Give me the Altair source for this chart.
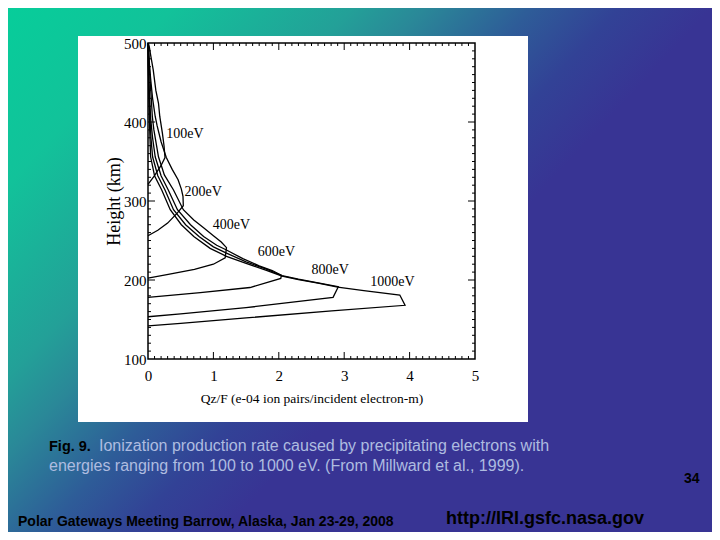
import altair as alt
import pandas as pd

# ---------------- data ----------------
energies = ["100eV", "200eV", "400eV", "600eV", "800eV", "1000eV"]

q_100 = [0.005, 0.02, 0.04, 0.08, 0.12, 0.16, 0.18, 0.22, 0.245, 0.26, 0.20, 0.10, 0.0]
h_100 = [500, 495, 485, 466, 440, 424, 407, 386, 370, 355, 345, 332, 321]

q_200 = [0.004, 0.02, 0.04, 0.07, 0.11, 0.14, 0.20, 0.28, 0.37, 0.46, 0.51, 0.535, 0.54, 0.45, 0.30, 0.15, 0.0]
h_200 = [500, 475, 455, 430, 407, 395, 375, 355, 340, 327, 315, 306, 294, 285, 272, 263, 256]

q_400 = [0.003, 0.016, 0.03, 0.05, 0.066, 0.09, 0.16, 0.25, 0.39, 0.54, 0.70, 0.85, 1.0, 1.12, 1.2,
         1.18, 1.0, 0.71, 0.31, 0.0]
h_400 = [500, 480, 455, 430, 407, 390, 356, 333, 314, 289, 276, 266, 256, 248, 241,
         228, 220, 213.5, 207, 202.5]

q_600 = [0.002, 0.008, 0.02, 0.04, 0.07, 0.11, 0.20, 0.31, 0.45, 0.65, 0.85, 1.05, 1.2, 1.45, 1.7, 1.9, 2.04,
         2.03, 1.56, 0.8, 0.0]
h_600 = [500, 470, 440, 405, 380, 356, 332, 314, 289, 270, 255, 244, 238, 227, 218, 212, 206,
         202, 190.5, 184, 178]

q_800 = [0.001, 0.006, 0.015, 0.03, 0.045, 0.07, 0.15, 0.26, 0.39, 0.575, 0.78, 1.0, 1.2, 1.5, 1.8, 2.05, 2.3,
         2.6, 2.91, 2.83, 1.5, 0.5, 0.0]
h_800 = [500, 470, 440, 405, 380, 356, 332, 314, 289, 270, 255, 242, 234, 223, 214, 205.5, 201,
         196.5, 191.5, 178, 165, 157, 153.5]

q_1000 = [0.001, 0.004, 0.01, 0.02, 0.03, 0.04, 0.10, 0.21, 0.34, 0.51, 0.70, 0.95, 1.2, 1.5, 1.8, 2.05, 2.3,
          2.6, 2.9, 3.3, 3.85, 3.93, 2.81, 1.5, 0.5, 0.0]
h_1000 = [500, 470, 440, 405, 380, 356, 332, 314, 289, 270, 255, 240, 230, 221, 212.5, 205, 200.5,
          196, 191, 186.5, 181, 168, 161, 152, 145, 142]

label_q = [0.28, 0.56, 0.99, 1.68, 2.5, 3.4]
label_h = [385, 311, 269, 235, 213, 198]

x_ticks = [0, 1, 2, 3, 4, 5]
y_ticks = [100, 200, 300, 400, 500]
x_minor = [round(i * 0.1, 1) for i in range(1, 50) if i % 10]
y_minor = [100 + 10 * i for i in range(1, 40) if i % 10]
x_major = [1, 2, 3, 4]
y_major = [200, 300, 400]

caption_bold = "Fig. 9."
caption_1 = "Ionization production rate caused by precipitating electrons with"
caption_2 = "energies ranging from 100 to 1000 eV. (From Millward et al., 1999)."
footer_left = "Polar Gateways Meeting Barrow, Alaska, Jan 23-29, 2008"
footer_url = "http://IRI.gsfc.nasa.gov"
page_no = "34"

# ---------------- tables ----------------
Q = [q_100, q_200, q_400, q_600, q_800, q_1000]
Hh = [h_100, h_200, h_400, h_600, h_800, h_1000]
rows = []
for name, qs, hs in zip(energies, Q, Hh):
    for i, (q, h) in enumerate(zip(qs, hs)):
        rows.append({"energy": name, "q": q, "h": h, "i": i})
curves = pd.DataFrame(rows)
labels = pd.DataFrame({"energy": energies, "q": label_q, "h": label_h})

W, H = 327, 316
xs = alt.Scale(domain=[0, 5], nice=False, zero=False)
ys = alt.Scale(domain=[100, 500], nice=False, zero=False)
one = alt.Data(values=[{"a": 1}])
SERIF = "Liberation Serif"
SANS = "Liberation Sans"

x_axis = alt.Axis(
    values=x_ticks, format="d", domain=False, ticks=False, tickSize=0, grid=False,
    labelFont=SERIF, labelFontSize=15, labelColor="black", labelPadding=9,
    labelFlush=False, labelOverlap=False,
    title="Qz/F (e-04 ion pairs/incident electron-m)", titleFont=SERIF,
    titleFontSize=13.5, titleFontWeight="normal", titleColor="black",
    titleX=163.5, titleY=39, titleBaseline="middle", titleAlign="center", zindex=1)
y_axis = alt.Axis(
    values=y_ticks, format="d", domain=False, ticks=False, tickSize=0, grid=False,
    labelFont=SERIF, labelFontSize=15, labelColor="black", labelPadding=2,
    labelFlush=False, labelOverlap=False,
    title="Height (km)", titleFont=SERIF, titleFontSize=18, titleFontWeight="normal",
    titleColor="black", titleAngle=270, titleX=-34, titleY=158,
    titleBaseline="middle", titleAlign="center", zindex=1)


def X(f):
    return alt.X(f, scale=xs, axis=x_axis)


def Y(f):
    return alt.Y(f, scale=ys, axis=y_axis)


grad = {
    "gradient": "linear",
    "x1": 0, "y1": 0, "x2": 0.671, "y2": 0.47,
    "stops": [
        {"offset": 0.0, "color": "#06CE9A"},
        {"offset": 0.25, "color": "#12C29A"},
        {"offset": 0.5, "color": "#23A098"},
        {"offset": 0.6, "color": "#2A8898"},
        {"offset": 0.75, "color": "#2E5C98"},
        {"offset": 0.87, "color": "#324296"},
        {"offset": 1.0, "color": "#383494"},
    ],
}

bg = alt.Chart(one).mark_rect(fill=grad).encode(
    x=alt.value(-148), x2=alt.value(572), y=alt.value(-43), y2=alt.value(497))
box = alt.Chart(one).mark_rect(fill="white").encode(
    x=alt.value(-70), x2=alt.value(380), y=alt.value(-7), y2=alt.value(379))


def xticks(vals, y0, y1):
    return alt.Chart(pd.DataFrame({"v": vals})).mark_rule(color="black", strokeWidth=1).encode(
        x=X("v:Q"), y=alt.value(y0), y2=alt.value(y1))


def yticks(vals, x0, x1):
    return alt.Chart(pd.DataFrame({"v": vals})).mark_rule(color="black", strokeWidth=1).encode(
        y=Y("v:Q"), x=alt.value(x0), x2=alt.value(x1))


ticks = [
    xticks(x_minor, H, H - 3), xticks(x_minor, 0, 3),
    xticks(x_major, H, H - 7), xticks(x_major, 0, 7),
    yticks(y_minor, 0, 3), yticks(y_minor, W, W - 3),
    yticks(y_major, 0, 7), yticks(y_major, W, W - 7),
]

lines = alt.Chart(curves).mark_line(color="black", strokeWidth=1.3).encode(
    x=X("q:Q"), y=Y("h:Q"), detail="energy:N", order="i:Q")

elabels = alt.Chart(labels).mark_text(
    font=SERIF, fontSize=14, color="black", align="left", baseline="middle").encode(
    x=X("q:Q"), y=Y("h:Q"), text="energy:N")

frame = alt.Chart(one).mark_rect(fillOpacity=0, stroke="black", strokeWidth=1.5).encode(
    x=alt.value(0), x2=alt.value(W), y=alt.value(0), y2=alt.value(H))


def txt(s, x, y, size, color, weight="normal"):
    return alt.Chart(alt.Data(values=[{"t": s}])).mark_text(
        font=SANS, fontSize=size, color=color, fontWeight=weight,
        align="left", baseline="alphabetic").encode(
        x=alt.value(x), y=alt.value(y), text="t:N")


texts = [
    txt(caption_bold, -99, 408, 14.5, "black", "bold"),
    txt(caption_1, -49, 408, 16, "#AEBCE0"),
    txt(caption_2, -99, 428, 16, "#AEBCE0"),
    txt(footer_left, -130, 483, 14, "black", "bold"),
    txt(footer_url, 298, 481, 18, "black", "bold"),
    txt(page_no, 536, 440, 14, "black", "bold"),
]

chart = alt.layer(bg, box, *ticks, lines, elabels, frame, *texts).properties(
    width=W, height=H,
    autosize=alt.AutoSizeParams(type="none"),
    padding={"left": 140, "top": 35, "right": 237, "bottom": 173},
).configure_view(stroke="transparent")

chart.save("out.html", embed_options={"renderer": "svg", "actions": False})
